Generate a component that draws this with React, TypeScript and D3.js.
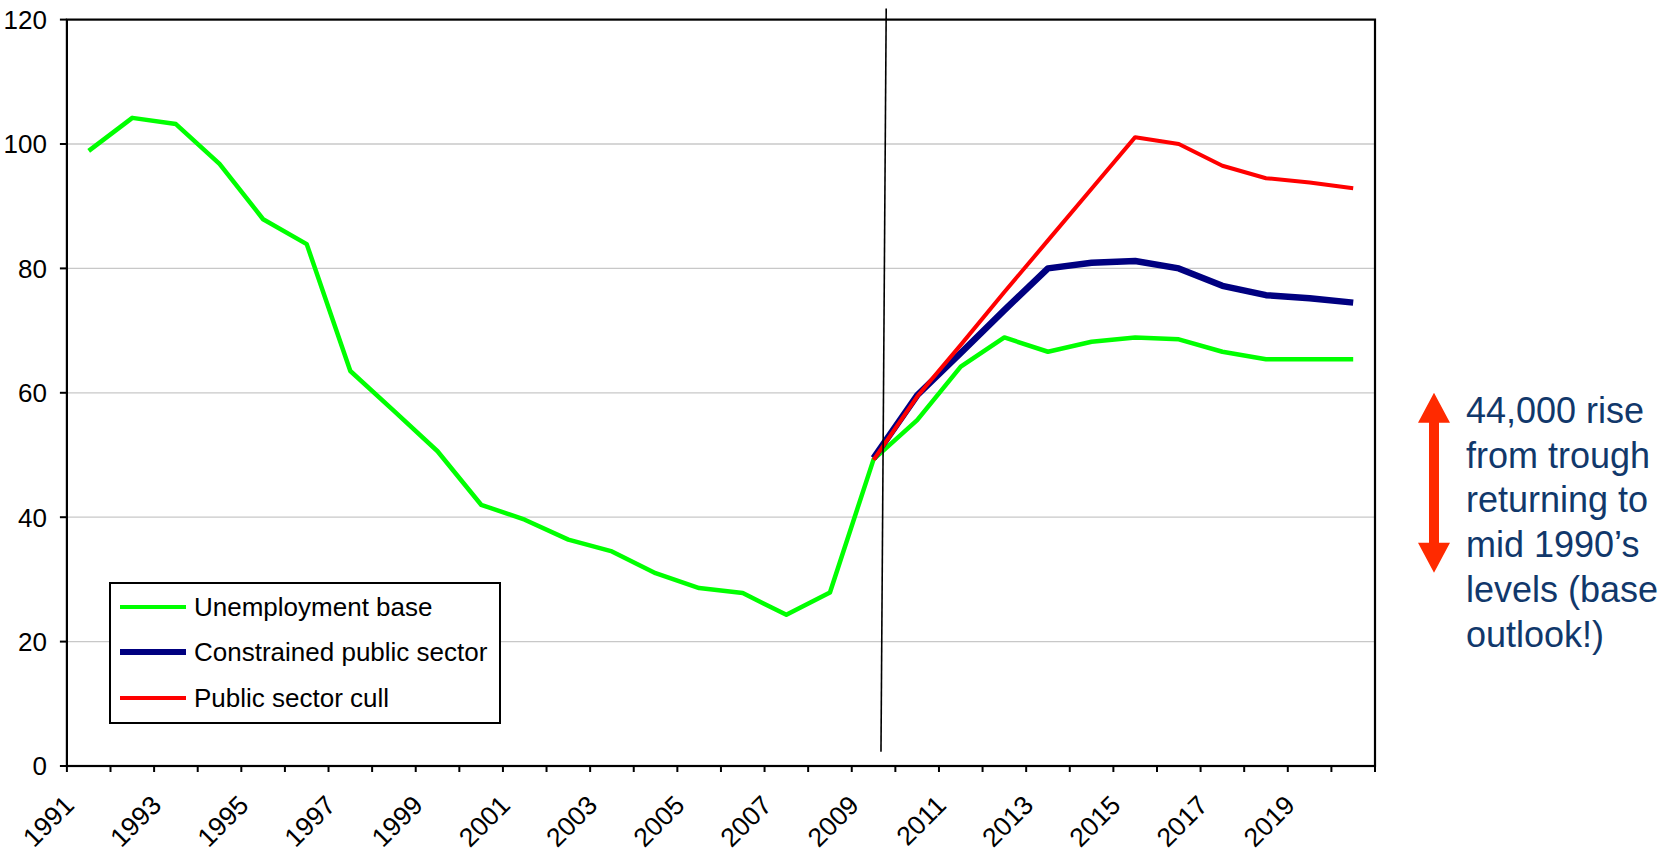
import React from "react";
import * as d3 from "d3";

// ---------- data ----------
const years = [
  1991, 1992, 1993, 1994, 1995, 1996, 1997, 1998, 1999, 2000,
  2001, 2002, 2003, 2004, 2005, 2006, 2007, 2008, 2009, 2010,
  2011, 2012, 2013, 2014, 2015, 2016, 2017, 2018, 2019, 2020,
];
const xTickLabels = [1991, 1993, 1995, 1997, 1999, 2001, 2003, 2005, 2007, 2009, 2011, 2013, 2015, 2017, 2019];
const yTicks = [0, 20, 40, 60, 80, 100, 120];

const unemploymentBase = [
  98.9, 104.2, 103.2, 96.8, 87.9, 83.9, 63.5, 57.1, 50.6, 42.0,
  39.6, 36.4, 34.5, 31.0, 28.6, 27.8, 24.3, 27.9, 49.3, 55.6,
  64.2, 68.9, 66.6, 68.2, 68.9, 68.6, 66.6, 65.4, 65.4, 65.4,
];
const projectionYears = [2009, 2010, 2011, 2012, 2013, 2014, 2015, 2016, 2017, 2018, 2019, 2020];
const constrainedPublicSector = [49.5, 59.6, 66.4, 73.3, 80.0, 80.9, 81.2, 80.0, 77.2, 75.7, 75.2, 74.5];
const publicSectorCull = [49.2, 59.4, 67.7, 76.2, 84.5, 92.8, 101.1, 100.0, 96.5, 94.5, 93.8, 92.9];

const seriesNames = ["Unemployment base", "Constrained public sector", "Public sector cull"];
const seriesColors = ["#00ff00", "#000080", "#ff0000"];
const seriesWidths = [4.5, 6.5, 4];

// divider line (year position, value) endpoints
const dividerLine = [
  { year: 2009.79, value: 121.8 },
  { year: 2009.67, value: 2.3 },
];

const annotationLines = ["44,000 rise", "from trough", "returning to", "mid 1990\u2019s", "levels (base", "outlook!)"];

// ---------- layout ----------
const W = 1664;
const H = 857;
const L = 66.9;
const R = 1375;
const T = 19.6;
const B = 766;
const FONT = "'Liberation Sans', Arial, Helvetica, sans-serif";

export default function App() {
  const x = d3.scaleBand<number>().domain(years).range([L, R]).padding(0);
  const xLin = d3.scaleLinear().domain([1991, 2021]).range([L, R]);
  const y = d3.scaleLinear().domain([0, 120]).range([B, T]);
  const bw = x.bandwidth();
  const cx = (yr: number) => (x(yr) as number) + bw / 2;

  const line = d3
    .line<[number, number]>()
    .x((d) => cx(d[0]))
    .y((d) => y(d[1]));

  const series: [number, number][][] = [
    years.map((yr, i) => [yr, unemploymentBase[i]]),
    projectionYears.map((yr, i) => [yr, constrainedPublicSector[i]]),
    projectionYears.map((yr, i) => [yr, publicSectorCull[i]]),
  ];

  const boundaries = [...years.map((yr) => x(yr) as number), R];

  // legend
  const lgX = 110, lgY = 583, lgW = 390, lgH = 140;
  const lgRows = [607, 652, 698];

  // annotation
  const arX = 1434, arTop = 392.7, arBot = 572.7;
  const headH = 30, headW = 32, shaftW = 10;

  return (
    <div style={{ position: "absolute", left: 0, top: 0, width: W, height: H, overflow: "hidden", background: "#fff" }}>
      <svg width={W} height={H} style={{ display: "block" }} fontFamily={FONT}>
        <rect x={0} y={0} width={W} height={H} fill="#fff" />
        {/* gridlines */}
        {yTicks
          .filter((t) => t > 0 && t < 120)
          .map((t) => (
            <line key={"g" + t} x1={L} x2={R} y1={y(t)} y2={y(t)} stroke="#c8c8c8" strokeWidth={1.3} />
          ))}

        {/* series */}
        {series.map((s, i) => (
          <path
            key={"s" + i}
            d={line(s) || ""}
            fill="none"
            stroke={seriesColors[i]}
            strokeWidth={seriesWidths[i]}
            strokeLinejoin="round"
          />
        ))}

        {/* divider */}
        <line
          x1={xLin(dividerLine[0].year)}
          y1={y(dividerLine[0].value)}
          x2={xLin(dividerLine[1].year)}
          y2={y(dividerLine[1].value)}
          stroke="#000"
          strokeWidth={1.6}
        />

        {/* plot border */}
        <rect x={L} y={T} width={R - L} height={B - T} fill="none" stroke="#000" strokeWidth={2.2} />

        {/* y axis ticks */}
        {yTicks.map((t) => (
          <g key={"y" + t}>
            <line x1={L - 7} x2={L} y1={y(t)} y2={y(t)} stroke="#000" strokeWidth={2} />
            <text x={L - 20} y={y(t)} dy="0.36em" textAnchor="end" fontSize={26} fill="#000">
              {t}
            </text>
          </g>
        ))}

        {/* x axis ticks */}
        {boundaries.map((bx, i) => (
          <line key={"xt" + i} x1={bx} x2={bx} y1={B} y2={B + 6} stroke="#000" strokeWidth={2} />
        ))}
        {xTickLabels.map((yr) => (
          <text
            key={"xl" + yr}
            transform={`translate(${(x(yr) as number) + 2},${B + 34}) rotate(-45)`}
            dy="0.36em"
            textAnchor="end"
            fontSize={26.5}
            fill="#000"
          >
            {yr}
          </text>
        ))}

        {/* legend */}
        <rect x={lgX} y={lgY} width={lgW} height={lgH} fill="#fff" stroke="#000" strokeWidth={2} />
        {seriesNames.map((n, i) => (
          <g key={"lg" + i}>
            <line
              x1={lgX + 10}
              x2={lgX + 76}
              y1={lgRows[i]}
              y2={lgRows[i]}
              stroke={seriesColors[i]}
              strokeWidth={i === 1 ? 6 : 4}
            />
            <text x={lgX + 84} y={lgRows[i]} dy="0.36em" fontSize={26} fill="#000">
              {n}
            </text>
          </g>
        ))}

        {/* annotation arrow */}
        <path
          d={`M${arX},${arTop} L${arX + headW / 2},${arTop + headH} L${arX + shaftW / 2},${arTop + headH}
              L${arX + shaftW / 2},${arBot - headH} L${arX + headW / 2},${arBot - headH} L${arX},${arBot}
              L${arX - headW / 2},${arBot - headH} L${arX - shaftW / 2},${arBot - headH}
              L${arX - shaftW / 2},${arTop + headH} L${arX - headW / 2},${arTop + headH} Z`}
          fill="#ff2a00"
        />
        {annotationLines.map((s, i) => (
          <text key={"an" + i} x={1466} y={423 + i * 44.7} fontSize={36} fill="#11386b">
            {s}
          </text>
        ))}
      </svg>
    </div>
  );
}
